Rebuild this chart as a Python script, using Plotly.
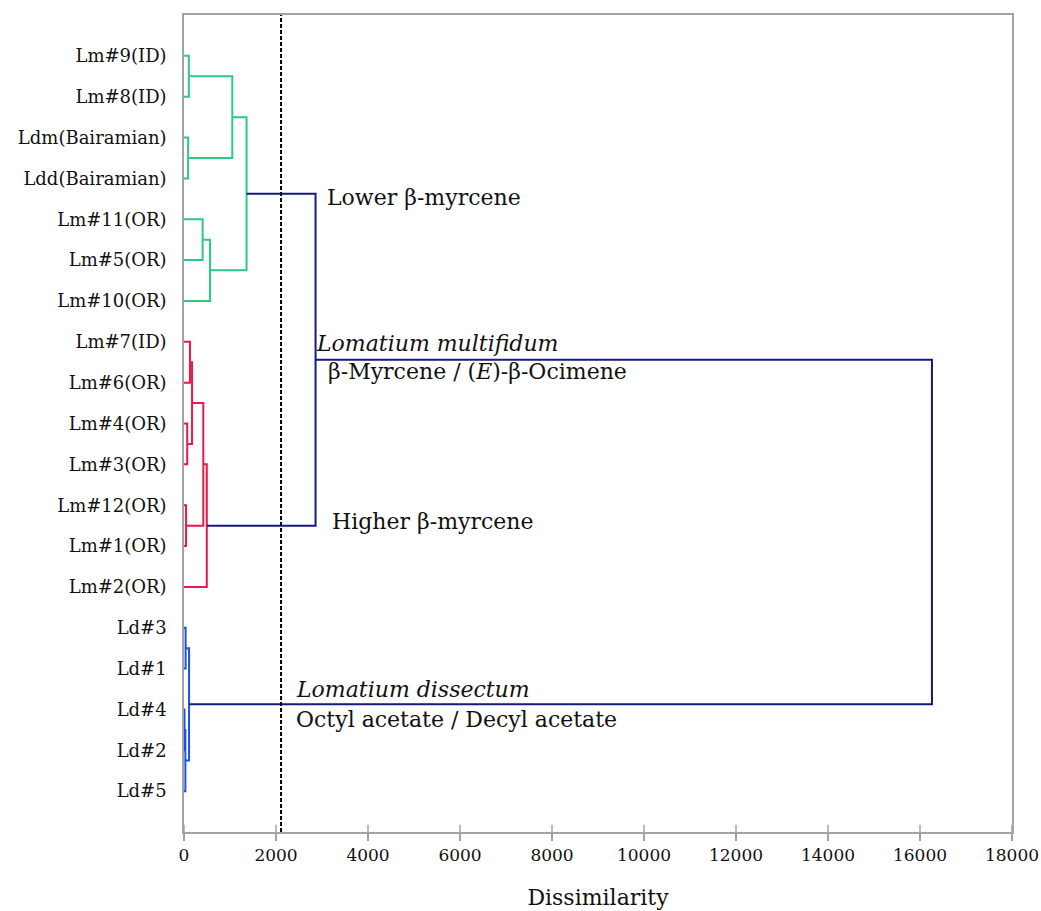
import plotly.graph_objects as go

# Leaf labels, top to bottom
leaf_labels = [
    "Lm#9(ID)", "Lm#8(ID)", "Ldm(Bairamian)", "Ldd(Bairamian)",
    "Lm#11(OR)", "Lm#5(OR)", "Lm#10(OR)",
    "Lm#7(ID)", "Lm#6(OR)", "Lm#4(OR)", "Lm#3(OR)", "Lm#12(OR)", "Lm#1(OR)", "Lm#2(OR)",
    "Ld#3", "Ld#1", "Ld#4", "Ld#2", "Ld#5",
]

# Agglomeration steps: node ids < 19 are leaves, step k creates node 19 + k
merge_left = [0, 2, 19, 4, 22, 21, 7, 9, 25, 11, 27, 29, 14, 16, 32, 31, 24, 35]
merge_right = [1, 3, 20, 5, 6, 23, 8, 10, 26, 12, 28, 13, 15, 17, 18, 33, 30, 34]
merge_height = [105, 90, 1050, 405, 565, 1360, 130, 70, 175, 45, 420, 495,
                35, 10, 30, 110, 2860, 16260]
merge_group = ["g", "g", "g", "g", "g", "g", "r", "r", "r", "r", "r", "r",
               "b", "b", "b", "b", "n", "n"]

truncation_level = 2110
x_ticks = [0, 2000, 4000, 6000, 8000, 10000, 12000, 14000, 16000, 18000]

colors = {"g": "#2cc984", "r": "#e8194b", "b": "#1c50e6", "n": "#17197f"}

n_leaves = len(leaf_labels)
pos = {i: float(i) for i in range(n_leaves)}
height = {i: 0.0 for i in range(n_leaves)}

segs = {k: ([], []) for k in colors}
for k, (a, b, h, g) in enumerate(zip(merge_left, merge_right, merge_height, merge_group)):
    node = n_leaves + k
    xs, ys = segs[g]
    # leg from each child out to the join height, then the join itself
    xs += [height[a], h, h, height[b], None]
    ys += [pos[a], pos[a], pos[b], pos[b], None]
    pos[node] = (pos[a] + pos[b]) / 2
    height[node] = h

fig = go.Figure()
for g in ["g", "r", "b", "n"]:
    xs, ys = segs[g]
    fig.add_trace(go.Scatter(x=xs, y=ys, mode="lines",
                             line=dict(color=colors[g], width=2),
                             hoverinfo="skip", showlegend=False))

axis_gray = "#a3a3a3"
font_family = "DejaVu Serif"

# dissimilarity cut line
fig.add_shape(type="line", xref="x", yref="paper", x0=truncation_level, x1=truncation_level,
              y0=0, y1=1, line=dict(color="black", width=2, dash="4px,2px"))

# upward half of the crossing x ticks
for t in x_ticks:
    fig.add_shape(type="line", xref="x", yref="paper", x0=t, x1=t, y0=0, y1=0.009,
                  line=dict(color=axis_gray, width=1.5))

ann_font = dict(family=font_family, size=22, color="#111111")
annotations = [
    (3065, 3.46, "Lower β-myrcene"),
    (2820, 7.03, "<i>Lomatium multifidum</i>"),
    (3090, 7.72, "β-Myrcene / (<i>E</i>)-β-Ocimene"),
    (3174, 11.39, "Higher β-myrcene"),
    (2400, 15.5, "<i>Lomatium dissectum</i>"),
    (2400, 16.24, "Octyl acetate / Decyl acetate"),
]
for x, y, txt in annotations:
    fig.add_annotation(x=x, y=y, text=txt, showarrow=False, xanchor="left",
                       yanchor="middle", font=ann_font)

fig.update_layout(
    width=1041, height=911,
    margin=dict(l=184, r=29, t=15, b=79),
    plot_bgcolor="white", paper_bgcolor="white",
    font=dict(family=font_family, size=18, color="#111111"),
    showlegend=False,
    xaxis=dict(
        range=[0, 18000], tickvals=x_ticks, ticktext=[str(t) for t in x_ticks],
        showgrid=False, zeroline=False, automargin=False,
        showline=True, linecolor=axis_gray, linewidth=1.5, mirror=True,
        ticks="outside", ticklen=7, tickcolor=axis_gray, tickwidth=1.5,
        tickfont=dict(family=font_family, size=17, color="#111111"),
        title=dict(text="Dissimilarity", standoff=25,
                   font=dict(family=font_family, size=22, color="#111111")),
    ),
    yaxis=dict(
        range=[19, -1], tickvals=list(range(n_leaves)), ticktext=leaf_labels,
        showgrid=False, zeroline=False, automargin=False,
        showline=True, linecolor=axis_gray, linewidth=1.5, mirror=True,
        ticks="", ticklabelstandoff=12,
        tickfont=dict(family=font_family, size=18, color="#111111"),
    ),
)

fig.write_html("out.html")
